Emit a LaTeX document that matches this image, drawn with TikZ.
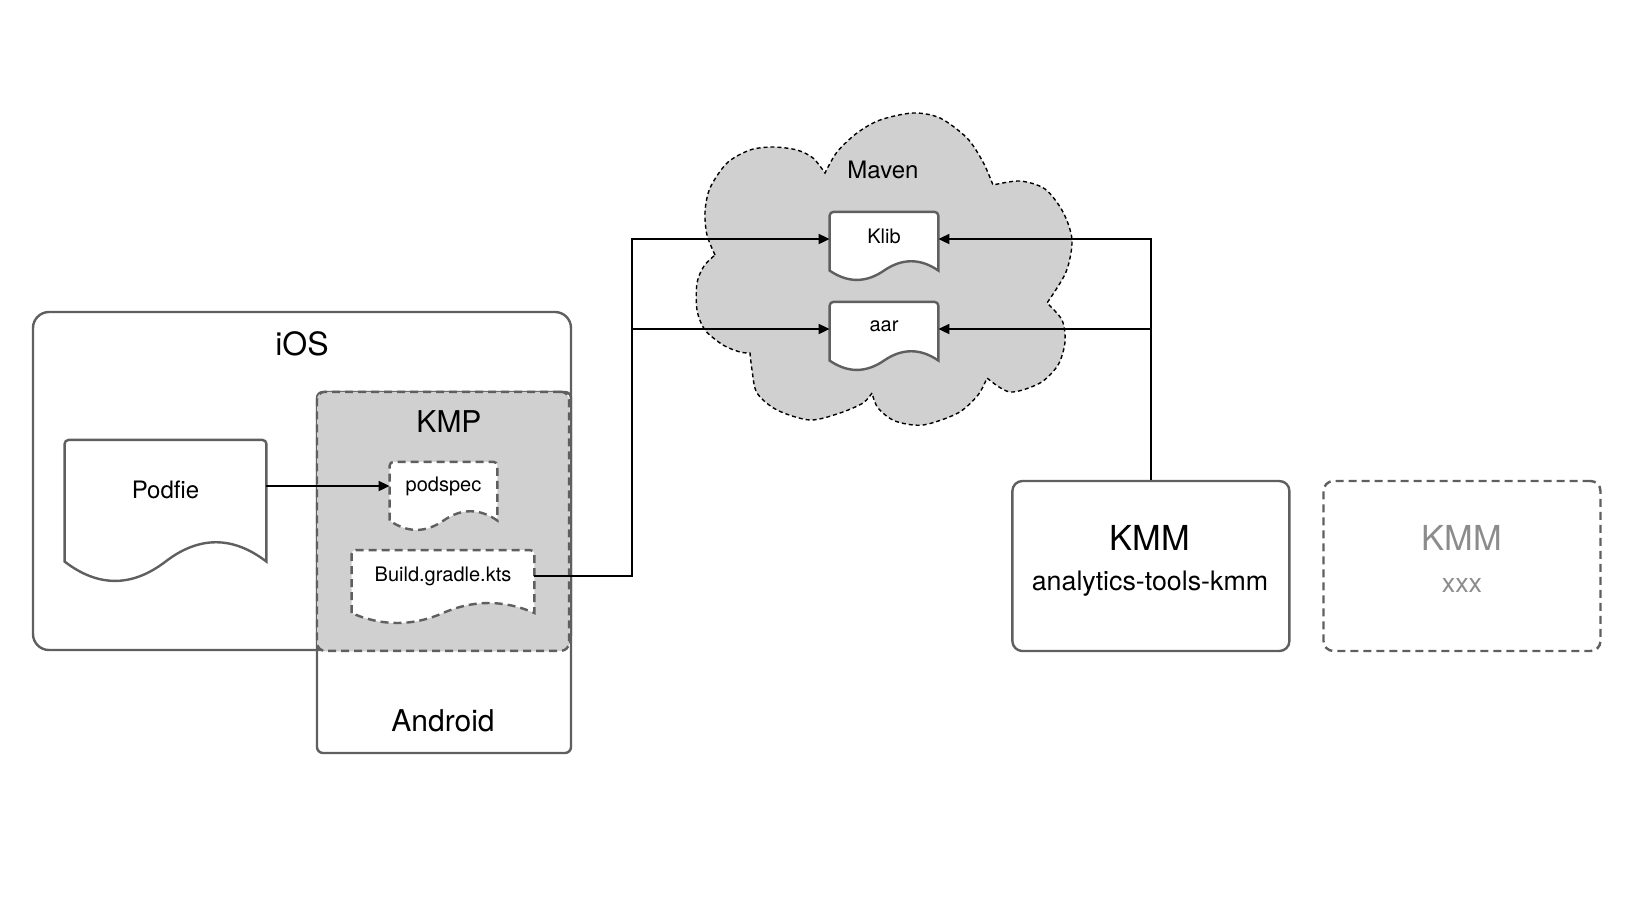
\documentclass[tikz,border=0pt]{standalone}
\usepackage{fontspec}
\setmainfont{TeX Gyre Heros}
\usetikzlibrary{arrows.meta,calc}

\definecolor{linegray}{RGB}{95,95,95}
\definecolor{shadegray}{RGB}{208,208,208}
\definecolor{fadedgray}{RGB}{140,140,140}

\pgfdeclarelayer{back}
\pgfdeclarelayer{mid}
\pgfsetlayers{back,mid,main}

\tikzset{
  box/.style={draw=linegray,line width=1.2pt,rounded corners=#1,inner sep=0pt},
  box/.default=3pt,
  dashbox/.style={box=#1,dash pattern=on 4pt off 2.5pt},
  dashbox/.default=3pt,
  doc/.style={inner sep=0pt},
  docsolid/.style={draw=linegray,line width=1.2pt,fill=white},
  docdash/.style={docsolid,dash pattern=on 4pt off 2.5pt},
  cloud/.style={draw=black,line width=0.7pt,fill=shadegray,dash pattern=on 2pt off 1.5pt},
  link/.style={draw=black,line width=0.9pt},
  arr/.style={link,-{Triangle[length=5.5pt,width=5pt]}},
  f10/.style={font=\fontsize{10}{12}\selectfont},
  f12/.style={font=\fontsize{12}{14}\selectfont},
  f13/.style={font=\fontsize{13.4}{16}\selectfont},
  f15/.style={font=\fontsize{15}{18}\selectfont},
  f16/.style={font=\fontsize{16}{19}\selectfont},
  f17/.style={font=\fontsize{17.2}{20}\selectfont}
}

% document outline below a text node: straight top, wavy bottom
\newcommand\docoutline[2]{%
  \path[#1] let \p1=(#2.north west), \p2=(#2.south east), \n1={(\y1-\y2)*3/7} in
    (\x1,{\y2-0.5*\n1}) [rounded corners=2pt] -- (\x1,\y1) -- (\x2,\y1) [sharp corners] -- (\x2,{\y2-0.5*\n1})
    .. controls ({\x2-(\x2-\x1)/6},{\y2+0.1*\n1}) and ({(\x1+\x2)/2+(\x2-\x1)/6},{\y2+0.1*\n1}) .. ({(\x1+\x2)/2},{\y2-0.5*\n1})
    .. controls ({(\x1+\x2)/2-(\x2-\x1)/6},{\y2-1.1*\n1}) and ({\x1+(\x2-\x1)/6},{\y2-1.1*\n1}) .. (\x1,{\y2-0.5*\n1}) -- cycle;}

\begin{document}
\begin{tikzpicture}[x=0.5pt,y=-0.5pt]
\useasboundingbox (0,0) rectangle (1633,901);

\begin{pgfonlayer}{back}
% platforms
\node[box=8pt,minimum width=269pt,minimum height=169pt] (ios) at (302,481) {};
\node[box=3pt,minimum width=127pt,minimum height=180.5pt] (android) at (444,572.5) {};
\node[dashbox=4pt,fill=shadegray,minimum width=126pt,minimum height=129.5pt] (kmp) at (443,521.3) {};
% maven repository
\path[cloud] (715,255)
  -- plot[smooth] coordinates {(715,255) (707,235) (705,212) (710,188) (727,163) (750,150) (773,147) (797,150) (813,158) (825,173)}
  -- plot[smooth] coordinates {(825,173) (837,152) (857,133) (880,120) (913,113) (940,118) (967,138) (983,162) (993,185)}
  -- plot[smooth] coordinates {(993,185) (1020,181) (1045,189) (1063,212) (1072,240) (1066,272) (1047,303)}
  -- plot[smooth] coordinates {(1047,303) (1062,320) (1065,342) (1058,365) (1040,383) (1010,392) (987,378)}
  -- plot[smooth] coordinates {(987,378) (978,395) (958,413) (923,425) (895,421) (878,408) (872,393)}
  -- plot[smooth] coordinates {(872,393) (863,403) (840,413) (810,420) (777,410) (757,393) (752,370) (750,353)}
  -- plot[smooth] coordinates {(750,353) (740,352) (723,345) (705,330) (697,310) (697,283) (704,266) (715,255)}
  -- cycle;
% modules
\node[box=5pt,minimum width=138.5pt,minimum height=85pt] (kmm) at (1150.9,566) {};
\node[dashbox=5pt,minimum width=138.5pt,minimum height=85pt] (kmmx) at (1462,566) {};
\end{pgfonlayer}

\node[f16] (iostxt) at (302,344) {iOS};
\node[f15] (kmptxt) at (449,422) {KMP};
\node[f15] (androidtxt) at (443,721) {Android};
\node[f12] (maventxt) at (883,170) {Maven};
\node[f17] (kmmtxt) at (1150,538) {KMM};
\node[f13] (kmmname) at (1150,584) {analytics-tools-kmm};
\node[f17,text=fadedgray] (kmmxtxt) at (1462,538) {KMM};
\node[f13,text=fadedgray] (kmmxname) at (1462,585) {xxx};

% files
\node[doc,f12,minimum width=100.5pt,minimum height=49.7pt] (podfile) at (165.5,490) {Podfie};
\node[doc,f10,minimum width=53.5pt,minimum height=23.8pt] (podspec) at (443.5,486) {podspec};
\node[doc,f10,minimum width=91pt,minimum height=25.5pt] (gradle) at (443,576) {Build.gradle.kts};
\node[doc,f10,minimum width=54pt,minimum height=23.8pt] (klib) at (884,236) {Klib};
\node[doc,f10,minimum width=54pt,minimum height=23.8pt] (aar) at (884,326) {aar};

\begin{pgfonlayer}{mid}
\foreach \d/\s in {podfile/docsolid,podspec/docdash,gradle/docdash,klib/docsolid,aar/docsolid}
  \docoutline{\s}{\d};
\end{pgfonlayer}

% publishing
\coordinate (split) at (632,576);
\draw[arr] (podfile.east |- podspec.west) -- (podspec.west);
\draw[arr] (gradle.east) -- (split) |- ([yshift=-1.5pt]klib.west);
\draw[arr] (split) |- ([yshift=-1.5pt]aar.west);
\draw[arr] (kmm.north) |- ([yshift=-1.5pt]klib.east);
\draw[arr] (kmm.north) |- ([yshift=-1.5pt]aar.east);
\end{tikzpicture}
\end{document}
